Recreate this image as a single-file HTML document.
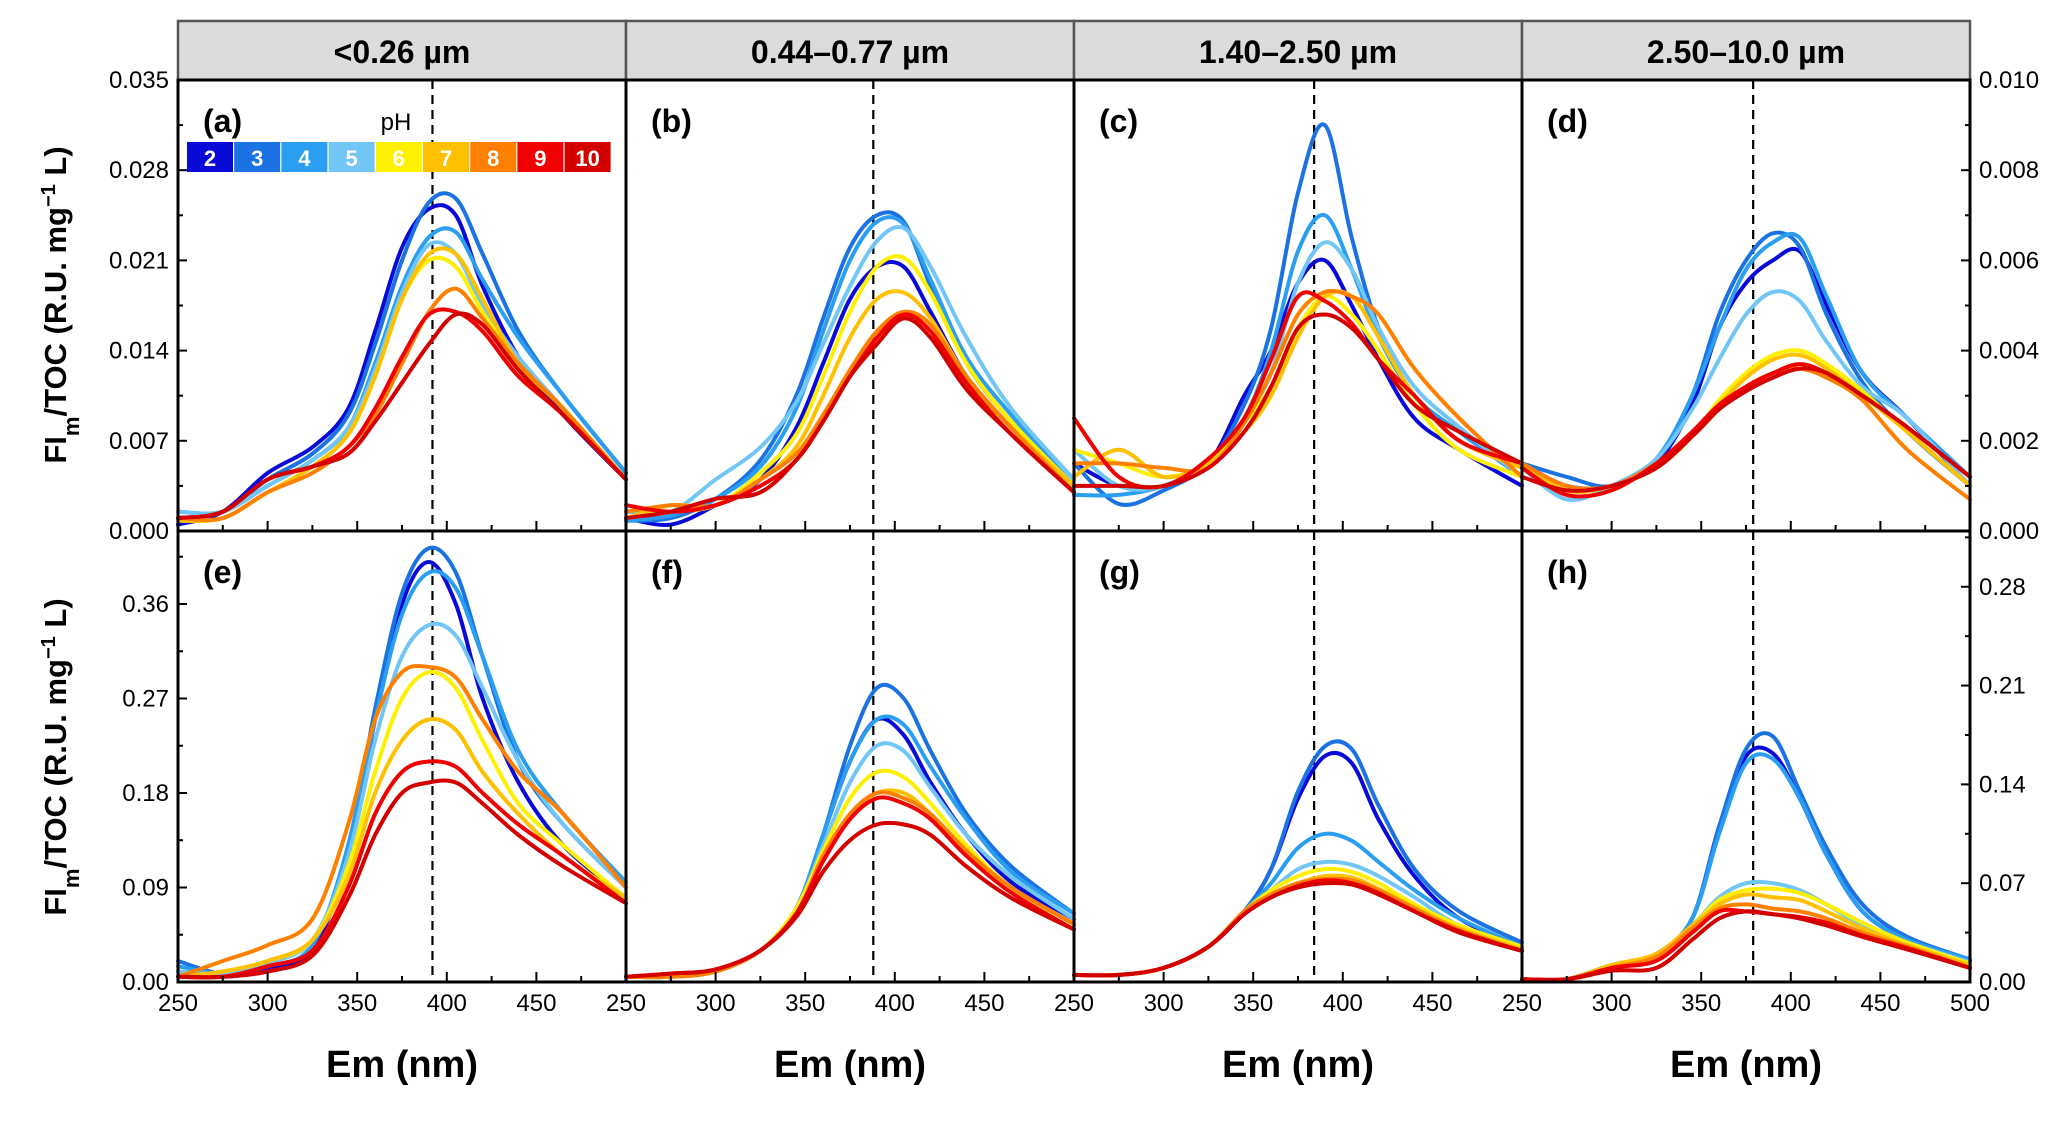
<!DOCTYPE html>
<html><head><meta charset="utf-8"><style>
html,body{margin:0;padding:0;background:#fff;}
svg{display:block;font-family:"Liberation Sans",Arial,sans-serif;}
</style></head><body>
<svg id="chart" width="2067" height="1121" viewBox="0 0 2067 1121" xmlns="http://www.w3.org/2000/svg"></svg>
<script>
// ---- data ----
const emX = [250,275,300,325,345,360,375,390,405,420,440,465,500];
const phLabels = ["2","3","4","5","6","7","8","9","10"];
const phColors = ["#0a0ad8","#1b72e3","#2a9ef0","#72c6f6","#fff000","#ffc000","#ff8000","#f00000","#d40000"];
const headers = ["<0.26 \u00b5m","0.44\u20130.77 \u00b5m","1.40\u20132.50 \u00b5m","2.50\u201310.0 \u00b5m"];
const panelLetters = ["(a)","(b)","(c)","(d)","(e)","(f)","(g)","(h)"];
const dashedEm = [392,388,384,379];
const xTicks = [250,300,350,400,450,500];
const leftTopTicks = ["0.000","0.007","0.014","0.021","0.028","0.035"];
const rightTopTicks = ["0.000","0.002","0.004","0.006","0.008","0.010"];
const leftBotTicks = ["0.00","0.09","0.18","0.27","0.36"];
const rightBotTicks = ["0.00","0.07","0.14","0.21","0.28"];
const panelA = [
[.0005,.0015,.0045,.0065,.0095,.0155,.022,.025,.0245,.019,.0135,.009,.004],
[.001,.0015,.004,.006,.009,.0145,.021,.0255,.0258,.0215,.0155,.0105,.0045],
[.0015,.0015,.0035,.0055,.008,.013,.019,.0228,.0232,.0195,.015,.0105,.0045],
[.0015,.0015,.0035,.0055,.008,.0125,.0185,.0222,.0215,.0175,.0135,.0095,.004],
[.0008,.001,.003,.005,.0075,.012,.018,.021,.0205,.017,.013,.0095,.004],
[.0008,.001,.003,.005,.0075,.012,.018,.0215,.0215,.018,.013,.0095,.004],
[.001,.001,.003,.0045,.0065,.009,.013,.017,.0188,.0165,.013,.0095,.004],
[.001,.0015,.004,.005,.0065,.0095,.0135,.0168,.017,.0155,.012,.009,.004],
[.001,.0015,.004,.005,.006,.0085,.0115,.0145,.0168,.016,.0125,.009,.004]];
const panelB = [
[.001,.0005,.002,.004,.008,.013,.018,.0205,.0205,.017,.012,.008,.003],
[.0008,.001,.0025,.0055,.0105,.0165,.022,.0245,.024,.019,.013,.0085,.0035],
[.0008,.0012,.0025,.005,.0095,.0155,.021,.024,.0238,.0195,.0135,.009,.0035],
[.0015,.0015,.004,.0065,.01,.0145,.019,.0225,.0235,.0205,.015,.0095,.004],
[.001,.0015,.002,.0045,.0075,.012,.017,.0205,.0212,.0185,.013,.0085,.0035],
[.001,.002,.002,.004,.0065,.0105,.015,.018,.0185,.0165,.012,.008,.0035],
[.0015,.002,.002,.004,.006,.009,.0125,.0155,.017,.016,.012,.008,.003],
[.002,.0015,.002,.0035,.0055,.0085,.012,.015,.0168,.0155,.0115,.0075,.003],
[.001,.0015,.0025,.003,.0055,.0085,.012,.0145,.0165,.015,.011,.0075,.003]];
const panelC = [
[.0015,.001,.001,.0015,.003,.004,.0055,.006,.005,.0038,.0025,.0018,.001],
[.0015,.0006,.0009,.0015,.0028,.0045,.0075,.009,.0065,.0045,.003,.0022,.0012],
[.0008,.0008,.001,.0015,.0025,.004,.0062,.007,.0058,.0043,.003,.0022,.0012],
[.0018,.001,.001,.0015,.0025,.0035,.0055,.0064,.0058,.0045,.0032,.0023,.0012],
[.0018,.0015,.0012,.0015,.0024,.0032,.0045,.0052,.0048,.004,.0028,.0018,.0012],
[.0012,.0018,.0012,.0015,.0022,.003,.0043,.0052,.0052,.0043,.003,.002,.0014],
[.0015,.0015,.0014,.0014,.0024,.0035,.0048,.0053,.0052,.0048,.0036,.0025,.0012],
[.0025,.0012,.001,.0016,.0025,.0038,.0052,.0051,.0046,.0038,.003,.002,.0015],
[.001,.001,.001,.0014,.0022,.0032,.0045,.0048,.0045,.0038,.0028,.0022,.0015]];
const panelD = [
[.0015,.001,.001,.0015,.0028,.0045,.0055,.006,.0062,.005,.0035,.0025,.001],
[.0015,.0012,.001,.0016,.003,.0048,.006,.0066,.0063,.0048,.0033,.0022,.001],
[.0014,.001,.001,.0016,.003,.0045,.0058,.0064,.0065,.0052,.0035,.0025,.0012],
[.0014,.0007,.001,.0016,.0027,.0038,.0048,.0053,.0051,.0042,.0032,.0025,.001],
[.0015,.0009,.001,.0014,.0021,.0029,.0035,.0039,.004,.0037,.0031,.0022,.001],
[.0015,.0009,.001,.0014,.0021,.0028,.0034,.0038,.0039,.0036,.003,.0022,.001],
[.0015,.001,.001,.0015,.0021,.0027,.0032,.0035,.0036,.0034,.0029,.0018,.0007],
[.0014,.0008,.0009,.0015,.0022,.0028,.0032,.0035,.0037,.0035,.003,.0023,.0012],
[.0012,.0009,.001,.0014,.0021,.0027,.0031,.0034,.0036,.0035,.003,.0023,.0012]];
const panelE = [
[.01,.005,.012,.03,.12,.25,.36,.40,.36,.27,.19,.13,.08],
[.02,.008,.015,.035,.13,.26,.37,.413,.39,.31,.21,.15,.09],
[.015,.008,.015,.035,.13,.25,.35,.39,.375,.31,.22,.16,.095],
[.01,.008,.018,.04,.12,.23,.31,.34,.33,.28,.21,.15,.09],
[.005,.01,.02,.04,.11,.2,.27,.295,.28,.23,.17,.13,.08],
[.005,.01,.02,.04,.1,.18,.23,.25,.24,.2,.16,.12,.08],
[.005,.02,.035,.06,.15,.25,.295,.30,.29,.25,.2,.16,.09],
[.005,.005,.015,.03,.09,.16,.2,.21,.205,.18,.15,.12,.075],
[.005,.005,.01,.025,.08,.14,.18,.19,.19,.17,.14,.11,.075]];
const panelF = [
[.005,.005,.01,.03,.07,.14,.21,.25,.235,.19,.14,.095,.06],
[.005,.005,.01,.03,.07,.14,.225,.28,.27,.22,.16,.11,.065],
[.005,.005,.01,.03,.07,.14,.21,.25,.245,.205,.155,.105,.065],
[.005,.005,.01,.03,.07,.13,.19,.225,.22,.185,.14,.1,.06],
[.005,.005,.01,.03,.07,.125,.175,.2,.195,.17,.13,.09,.055],
[.005,.005,.01,.03,.065,.12,.16,.18,.18,.16,.125,.09,.055],
[.005,.005,.01,.03,.065,.12,.16,.18,.175,.16,.125,.09,.055],
[.005,.008,.012,.03,.065,.115,.155,.175,.17,.155,.12,.085,.05],
[.005,.008,.012,.03,.062,.105,.135,.15,.15,.14,.11,.08,.05]];
const panelG = [
[.005,.005,.01,.025,.05,.08,.13,.16,.155,.115,.075,.045,.025],
[.005,.005,.01,.025,.05,.08,.135,.167,.165,.125,.08,.05,.028],
[.005,.005,.01,.025,.05,.07,.095,.105,.1,.085,.065,.045,.025],
[.005,.005,.01,.025,.05,.065,.08,.085,.083,.075,.06,.04,.025],
[.005,.005,.01,.025,.05,.065,.075,.08,.078,.07,.055,.04,.025],
[.005,.005,.01,.025,.05,.062,.07,.075,.074,.066,.053,.038,.023],
[.005,.005,.01,.025,.05,.062,.07,.073,.072,.065,.052,.037,.022],
[.005,.005,.01,.025,.048,.06,.068,.072,.07,.063,.05,.036,.022],
[.005,.005,.01,.025,.048,.06,.067,.07,.069,.062,.05,.035,.022]];
const panelH = [
[.002,.002,.012,.02,.045,.11,.16,.162,.13,.09,.05,.03,.015],
[.002,.002,.012,.02,.045,.11,.165,.174,.135,.095,.055,.032,.016],
[.002,.002,.012,.02,.045,.105,.155,.158,.13,.09,.05,.03,.016],
[.002,.002,.012,.02,.04,.06,.07,.07,.065,.055,.04,.028,.014],
[.002,.002,.012,.02,.04,.058,.065,.066,.063,.055,.042,.028,.013],
[.002,.002,.012,.02,.04,.055,.062,.06,.058,.05,.038,.026,.012],
[.002,.002,.01,.018,.038,.052,.055,.052,.05,.045,.035,.025,.01],
[.002,.002,.01,.015,.035,.05,.05,.048,.046,.042,.033,.024,.01],
[.002,.002,.008,.01,.03,.045,.05,.048,.045,.04,.032,.023,.01]];
const panelData = [panelA,panelB,panelC,panelD,panelE,panelF,panelG,panelH];
const yMaxTop = [0.035,0.035,0.010,0.010];
const yMaxBot = [0.4295,0.4295,0.3195,0.3195];

// ---- layout ----
const NS = "http://www.w3.org/2000/svg";
const svg = document.getElementById("chart");
const L = 178, PW = 448, HT = 21, TOP = 80, MID = 531, BOT = 982;
function mk(tag, attrs, parent, text){
  const e = document.createElementNS(NS, tag);
  for (const k in attrs) e.setAttribute(k, attrs[k]);
  if (text !== undefined) e.textContent = text;
  (parent || svg).appendChild(e);
  return e;
}
function xScale(col, v){ return L + col*PW + (v-250)/250*PW; }
function yScale(row, col, v){
  const y0 = row===0 ? MID : BOT, h = MID-TOP;
  const m = row===0 ? yMaxTop[col] : yMaxBot[col];
  return y0 - v/m*h;
}
function curve(pts){
  let d = "M"+pts[0][0].toFixed(1)+","+pts[0][1].toFixed(1);
  for (let i=0;i<pts.length-1;i++){
    const p0=pts[Math.max(0,i-1)],p1=pts[i],p2=pts[i+1],p3=pts[Math.min(pts.length-1,i+2)];
    const c1=[p1[0]+(p2[0]-p0[0])/6,p1[1]+(p2[1]-p0[1])/6];
    const c2=[p2[0]-(p3[0]-p1[0])/6,p2[1]-(p3[1]-p1[1])/6];
    d+=" C"+c1[0].toFixed(1)+","+c1[1].toFixed(1)+" "+c2[0].toFixed(1)+","+c2[1].toFixed(1)+" "+p2[0].toFixed(1)+","+p2[1].toFixed(1);
  }
  return d;
}

const bg = mk("rect",{x:L,y:TOP,width:PW*4,height:BOT-TOP,fill:"#ffffff"});



for (let c=0;c<4;c++){
  const g = mk("g",{});
  
  
  mk("rect",{x:L+c*PW,y:HT,width:PW,height:TOP-HT,fill:"#dcdcdc",stroke:"#555","stroke-width":2.5},g);
  mk("text",{x:L+c*PW+PW/2,y:TOP-17,"text-anchor":"middle","font-size":32,"font-weight":"bold",fill:"#000"},g,headers[c]);
}

for (let r=0;r<2;r++){
  for (let c=0;c<4;c++){
    const idx = r*4+c;
    const g = mk("g",{});
    
    
    const dx = xScale(c, dashedEm[c]);
    const dl = mk("line",{x1:dx,x2:dx,y1:r===0?TOP:MID,y2:r===0?MID:BOT,stroke:"#000","stroke-width":2.2,"stroke-dasharray":"9,6"},g);
    
    
    const series = panelData[idx];
    for (let s=0;s<series.length;s++){
      const pts = emX.map((x,i)=>[xScale(c,x), yScale(r,c,series[s][i])]);
      const p = mk("path",{d:curve(pts),fill:"none",stroke:phColors[s],"stroke-width":4,"stroke-linejoin":"round","stroke-linecap":"round"},g);
      
      
    }
    const lt = mk("text",{x:L+c*PW+25,y:(r===0?TOP:MID)+52,"font-size":32,"font-weight":"bold",fill:"#000"},g,panelLetters[idx]);
    
    
  }
}

const frame = mk("g",{stroke:"#000","stroke-width":3,fill:"none"});


mk("rect",{x:L,y:TOP,width:PW*4,height:BOT-TOP},frame);
mk("line",{x1:L,x2:L+4*PW,y1:MID,y2:MID},frame);
for (let c=1;c<4;c++) mk("line",{x1:L+c*PW,x2:L+c*PW,y1:TOP,y2:BOT},frame);

const xt = mk("g",{stroke:"#000","stroke-width":2});


for (let c=0;c<4;c++){
  for (let v=250; v<=500; v+=25){
    const x = xScale(c,v), len = (v%50===0)?10:6;
    mk("line",{x1:x,x2:x,y1:BOT,y2:BOT-len},xt);
    mk("line",{x1:x,x2:x,y1:MID,y2:MID-len},xt);
  }
  xTicks.forEach(v=>{
    if (v===500 && c<3) return;
    const t = mk("text",{x:xScale(c,v),y:1011,"text-anchor":"middle","font-size":24,fill:"#000"},null,String(v));
    
    
  });
  const xl = mk("text",{x:L+c*PW+PW/2,y:1077,"text-anchor":"middle","font-size":38,"font-weight":"bold",fill:"#000"},null,"Em (nm)");
  
  
}

function drawY(labels, valuesMax, tickStep, row, side){
  const g = mk("g",{});
  
  
  const y0 = row===0?MID:BOT, h = MID-TOP;
  const xa = side==="left"?L:L+4*PW, dir = side==="left"?1:-1;
  for (let i=0;i<labels.length;i++){
    const v = i*tickStep, y = y0 - v/valuesMax*h;
    mk("line",{x1:xa,x2:xa+dir*9,y1:y,y2:y,stroke:"#000","stroke-width":2},g);
    const ym = y0 - (v+tickStep/2)/valuesMax*h;
    if (ym > (row===0?TOP:MID)+2) mk("line",{x1:xa,x2:xa+dir*5,y1:ym,y2:ym,stroke:"#000","stroke-width":2},g);
    mk("text",{x:side==="left"?xa-9:xa+9,y:y+8,"text-anchor":side==="left"?"end":"start","font-size":24,fill:"#000"},g,labels[i]);
  }
}
drawY(leftTopTicks,0.035,0.007,0,"left");
drawY(rightTopTicks,0.010,0.002,0,"right");
drawY(leftBotTicks,yMaxBot[0],0.09,1,"left");
drawY(rightBotTicks,yMaxBot[3],0.07,1,"right");

[305,757].forEach((cy,i)=>{
  const t = mk("text",{x:0,y:0,transform:"translate(66,"+cy+") rotate(-90)","text-anchor":"middle","font-size":31,"font-weight":"bold",fill:"#000"});
  
  
  t.innerHTML = 'FI<tspan baseline-shift="sub" font-size="22">m</tspan>/TOC (R.U. mg<tspan baseline-shift="super" font-size="20">\u22121</tspan> L)';
});

const lg = mk("g",{});


mk("text",{x:396,y:130,"text-anchor":"middle","font-size":24,fill:"#000"},lg,"pH");
for (let i=0;i<phLabels.length;i++){
  const e = mk("g",{},lg);
  
  
  const x = 187 + i*47.2;
  mk("rect",{x:x,y:142,width:46,height:30,fill:phColors[i]},e);
  mk("text",{x:x+23,y:166,"text-anchor":"middle","font-size":22,"font-weight":"bold",fill:"#fff"},e,phLabels[i]);
}
</script>
</body></html>
